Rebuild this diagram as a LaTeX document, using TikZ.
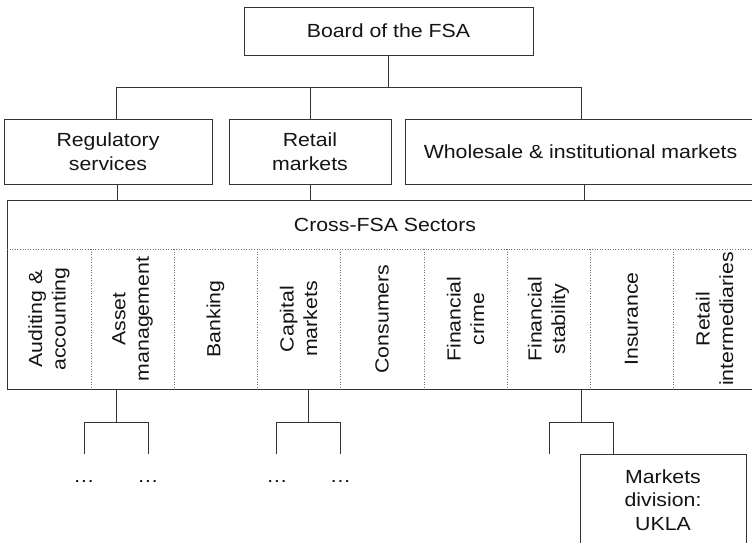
\documentclass[tikz,border=0pt]{standalone}
\usepackage{fontspec}
\setmainfont{Liberation Sans}[FakeStretch=1.12]
\begin{document}
\begin{tikzpicture}[x=1pt,y=-1pt,
  every node/.style={font=\fontsize{19}{23.5}\selectfont, text=black!92, align=center},
  box/.style={draw=black!80, line width=0.9pt, inner sep=0pt},
  conn/.style={draw=black!80, line width=0.9pt},
  sep/.style={draw=black!55, dotted, line width=0.6pt},
  rot/.style={rotate=90, inner sep=0pt}]
\useasboundingbox (0,0) rectangle (752,542);
\clip (0,0) rectangle (752,542);

% top level
\node[box, minimum width=289pt, minimum height=48pt] (board) at (388.5,31) {Board of the FSA};
\node[box, minimum width=208pt, minimum height=65pt] (reg) at (108,151.5) {Regulatory\\services};
\node[box, minimum width=162pt, minimum height=65pt] (ret) at (310,151.5) {Retail\\markets};
\node[box, minimum width=351pt, minimum height=65pt] (whs) at (580.5,151.5) {Wholesale \& institutional markets};

\coordinate (tL) at (116,87);
\coordinate (tR) at (581,87);
\draw[conn] (board.south) -- (board.south |- tL);
\draw[conn] (tL) -- (tR);
\draw[conn] (tL) -- (tL |- reg.north);
\draw[conn] (ret.north |- tL) -- (ret.north);
\draw[conn] (tR) -- (tR |- whs.north);

% cross-FSA box
\node[box, minimum width=749pt, minimum height=189pt] (cross) at (381.5,294.5) {};
\node (crosst) at (385,225) {Cross-FSA Sectors};

\coordinate (c1) at (117,200);
\coordinate (c2) at (310,200);
\coordinate (c3) at (584,200);
\draw[conn] (c1 |- reg.south) -- (c1);
\draw[conn] (c2 |- ret.south) -- (c2);
\draw[conn] (c3 |- whs.south) -- (c3);

\coordinate (dl) at (7,249);
\coordinate (dr) at (756,249);
\draw[sep] (dl) -- (dr);
\foreach \x in {91,174,257,340,424,507,590,673}
  \draw[sep] (\x,249) -- (\x,389);

\foreach \x/\t/\n in {49/{Auditing \&\\accounting}/s1,
                      132.5/{Asset\\management}/s2,
                      215.5/{Banking}/s3,
                      298.5/{Capital\\markets}/s4,
                      382/{Consumers}/s5,
                      465.5/{Financial\\crime}/s6,
                      548.5/{Financial\\stability}/s7,
                      631.5/{Insurance}/s8,
                      714.5/{Retail\\intermediaries}/s9}
  \node[rot] (\n) at (\x,319) {\t};

% lower trees
\coordinate (a0) at (116,422);
\coordinate (aL) at (84,422);
\coordinate (aR) at (148,422);
\coordinate (aLe) at (84,454);
\coordinate (aRe) at (148,454);
\draw[conn] (a0 |- cross.south) -- (a0);
\draw[conn] (aLe) -- (aL) -- (aR) -- (aRe);
\node (d1) at (84,481) {\textellipsis};
\node (d2) at (148,481) {\textellipsis};

\coordinate (b0) at (308,422);
\coordinate (bL) at (276,422);
\coordinate (bR) at (340,422);
\coordinate (bLe) at (276,454);
\coordinate (bRe) at (340,454);
\draw[conn] (b0 |- cross.south) -- (b0);
\draw[conn] (bLe) -- (bL) -- (bR) -- (bRe);
\node (d3) at (277,481) {\textellipsis};
\node (d4) at (340.5,481) {\textellipsis};

\node[box, minimum width=166pt, minimum height=92pt] (mkt) at (663,500) {Markets\\division:\\UKLA};
\coordinate (f0) at (581,422);
\coordinate (fL) at (549,422);
\coordinate (fR) at (613,422);
\coordinate (fLe) at (549,454);
\draw[conn] (f0 |- cross.south) -- (f0);
\draw[conn] (fLe) -- (fL) -- (fR) -- (fR |- mkt.north);
\end{tikzpicture}
\end{document}
